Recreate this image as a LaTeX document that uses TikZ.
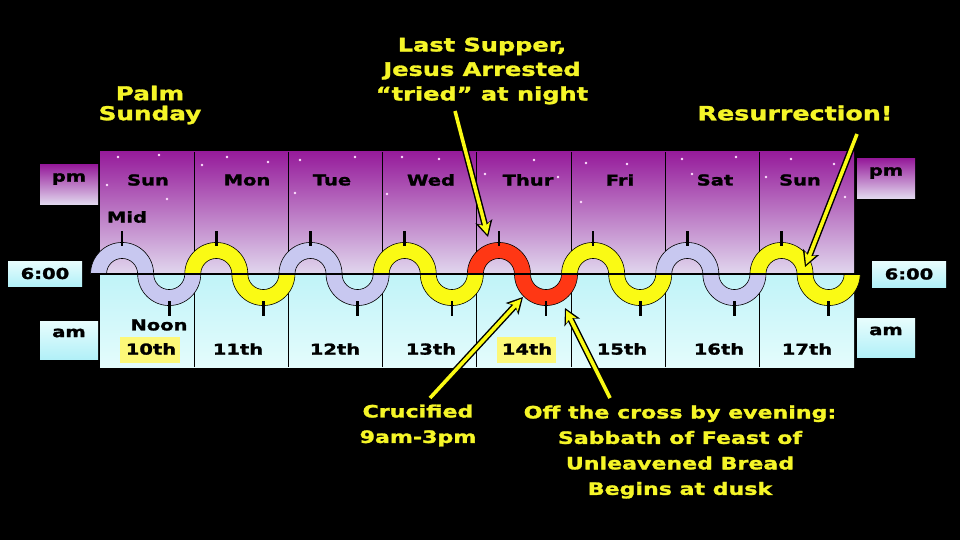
\documentclass[tikz,border=0pt]{standalone}
\usepackage{fontspec}
\setmainfont{DejaVu Sans}[FakeStretch=1.3, BoldFeatures={FakeBold=1.6}]
\usetikzlibrary{arrows.meta}
\definecolor{ytext}{RGB}{245,245,40}
\definecolor{ylw}{RGB}{250,250,20}
\definecolor{lav}{RGB}{200,200,240}
\definecolor{wred}{RGB}{255,55,20}
\definecolor{purtop}{RGB}{150,28,155}
\definecolor{purmid}{RGB}{185,120,195}
\definecolor{purbot}{RGB}{225,215,238}
\definecolor{cyntop}{RGB}{192,243,248}
\definecolor{cynbot}{RGB}{228,252,252}
\definecolor{boxtop}{RGB}{232,253,253}
\definecolor{boxbot}{RGB}{178,240,248}
\definecolor{hilite}{RGB}{252,248,120}
\definecolor{star}{RGB}{255,225,255}
\begin{document}
\begin{tikzpicture}[x=1pt,y=-1pt,
  tlbl/.style={font=\bfseries\fontsize{15}{17}\selectfont, text=black, inner sep=0pt},
  ylbl/.style={font=\bfseries\fontsize{17}{25.5}\selectfont, text=ytext, align=center, inner sep=0pt},
  pmbox/.style={top color=purtop, bottom color=purbot, draw=none},
  ambox/.style={top color=boxtop, bottom color=boxbot, draw=none},
  tick/.style={line width=2.6pt, black},
  arrowout/.style={line width=6.5pt, draw=black, shorten <=-1pt, -{Stealth[length=16pt,width=17pt,inset=4pt]}},
  arrowin/.style={line width=3.6pt, draw=ylw, shorten >=2.6pt, -{Stealth[length=11.5pt,width=11.5pt,inset=2.8pt]}}
]
\fill[black] (0,0) rectangle (960,540);
\useasboundingbox (0,0) rectangle (960,540);

% panels
\path[top color=purtop, middle color=purmid, bottom color=purbot] (100,152) rectangle (854,274);
\path[top color=cyntop, bottom color=cynbot] (100,274) rectangle (854,367);

% stars
\foreach \sx/\sy in {118/157,159/155,107/185,167/199,202/165,227/157,268/162,300/160,295/193,355/157,402/157,439/159,387/194,485/174,534/160,558/177,581/202,586/163,627/164,682/159,692/174,736/157,766/177,791/159,834/164,845/197}
  \fill[star] (\sx,\sy) circle[radius=1.4];

% highlight boxes
\fill[hilite] (120,337) rectangle (180,363);
\fill[hilite] (497,337) rectangle (556,363);

% column dividers
\foreach \k in {1,...,7}
  \draw[black, line width=0.8pt] ({100+94.2*\k},152) -- ({100+94.2*\k},367);

% wave
\foreach \k/\col in {0/lav,1/ylw,2/lav,3/ylw,4/wred,5/ylw,6/lav,7/ylw} {
  \pgfmathsetmacro\xh{122.1+94.2*\k}
  \pgfmathsetmacro\xt{\xh+47.1}
  \filldraw[fill=\col, draw=black, line width=0.6pt]
    ({\xh-31.55},274) arc[start angle=180,end angle=360,radius=31.55]
    arc[start angle=180,end angle=0,radius=15.55] -- ++(16,0)
    arc[start angle=0,end angle=180,radius=31.55]
    arc[start angle=360,end angle=180,radius=15.55] -- cycle;
  \draw[tick] (\xh,231) -- (\xh,246);
  \draw[tick] (\xt,301) -- (\xt,316);
}
% 6:00 line
\draw[black, line width=2.6pt] (91,274) -- (863,274);

% day labels
\foreach \x/\t [count=\i] in {148/Sun,247/Mon,332/Tue,431/Wed,528/Thur,620/Fri,715/Sat,800/Sun}
  \node[tlbl] (day\i) at (\x,180) {\t};
\foreach \x/\t [count=\i] in {151/10th,238/11th,335/12th,431/13th,527/14th,622/15th,719/16th,807/17th}
  \node[tlbl] (date\i) at (\x,349) {\t};
\node[tlbl] (mid) at (127,217) {Mid};
\node[tlbl] (noon) at (159,325) {Noon};

% side boxes
\path[pmbox] (40,165) rectangle (98,204);
\node[tlbl] (pmL) at (69,179) {pm};
\path[ambox] (8,261) rectangle (82,286);
\node[tlbl] (sixL) at (45,273.5) {6:00};
\path[ambox] (40,321) rectangle (98,359);
\node[tlbl] (amL) at (69,333) {am};
\path[pmbox] (857,159) rectangle (915,198);
\node[tlbl] (pmR) at (886,173) {pm};
\path[ambox] (872,261) rectangle (946,287);
\node[tlbl] (sixR) at (909,274) {6:00};
\path[ambox] (857,318) rectangle (915,357);
\node[tlbl] (amR) at (886,331) {am};

% yellow labels
\node[ylbl, font=\bfseries\fontsize{19}{20}\selectfont] (palm) at (150,105) {Palm\\Sunday};
\node[ylbl, font=\bfseries\fontsize{18.5}{24.5}\selectfont] (supper) at (482,71) {Last Supper,\\Jesus Arrested\\“tried” at night};
\node[ylbl, font=\bfseries\fontsize{19.5}{22}\selectfont] (resur) at (795,113) {Resurrection!};
\node[ylbl] (cruc) at (418,425.5) {Crucified\\9am-3pm};
\node[ylbl] (offcross) at (680,452) {Off the cross by evening:\\Sabbath of Feast of\\Unleavened Bread\\Begins at dusk};

% arrows
\coordinate (lsTail) at (455,111);
\coordinate (lsTip) at (488,237);
\coordinate (resTail) at (857,134);
\coordinate (resTip) at (805,267);
\coordinate (crTail) at (430,398);
\coordinate (crTip) at (523,297);
\coordinate (ofTail) at (610,398);
\coordinate (ofTip) at (565,308);
\foreach \a/\b in {lsTail/lsTip,resTail/resTip,crTail/crTip,ofTail/ofTip} {
  \draw[arrowout] (\a) -- (\b);
  \draw[arrowin] (\a) -- (\b);
}
\end{tikzpicture}
\end{document}
